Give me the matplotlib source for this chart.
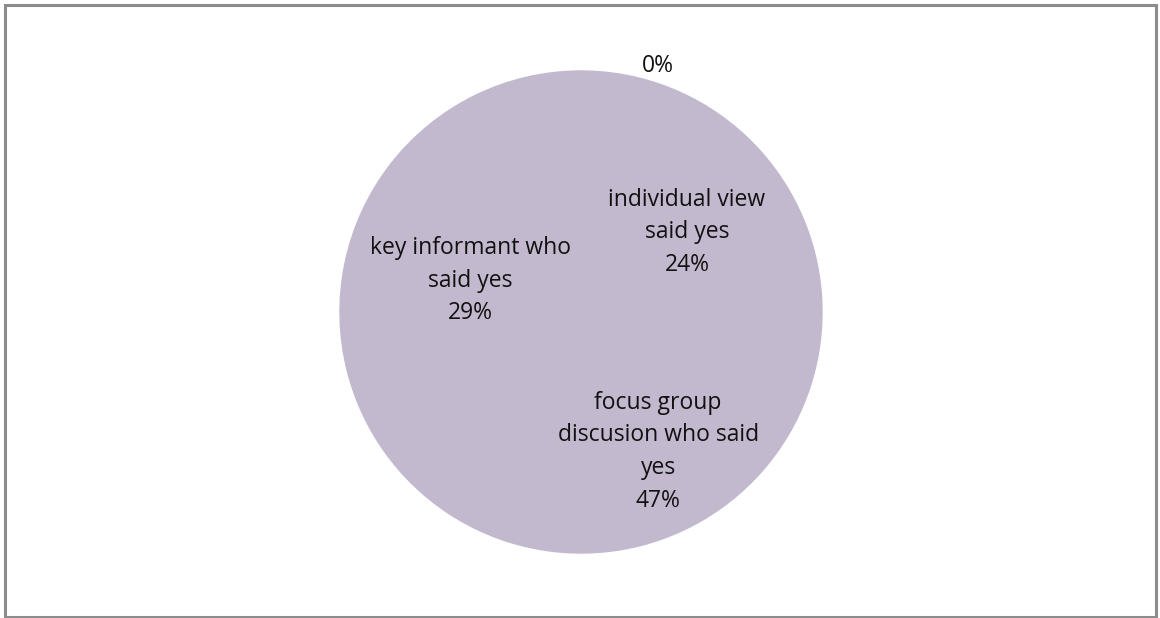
import matplotlib.pyplot as plt
from matplotlib.patches import Rectangle

plt.rcParams['font.family'] = ['Open Sans', 'DejaVu Sans']

# data
categories = ['', 'individual view\nsaid yes', 'focus group\ndiscusion who said\nyes', 'key informant who\nsaid yes']
values = [0, 24, 47, 29]
pct_labels = ['0%', '24%', '47%', '29%']

W, H = 1160, 618
fig = plt.figure(figsize=(W / 100, H / 100), dpi=100)

# pie centred at (581, 312) px, radius 241 px
cx, cy, r, half = 581, 312, 241, 300
ax = fig.add_axes([(cx - half) / W, (H - cy - half) / H, 2 * half / W, 2 * half / H])
lim = half / r

wedges, _ = ax.pie(values, startangle=90, counterclock=False,
                   colors=['#c3b9cf'] * len(values),
                   wedgeprops=dict(edgecolor='#c3b9cf', linewidth=1))
ax.set_xlim(-lim, lim)
ax.set_ylim(-lim, lim)
ax.set_aspect('equal')
ax.axis('off')

# label spots (Excel "best fit" style)
label_pos = [(0.32, 1.02), (0.44, 0.33), (0.32, -0.58), (-0.46, 0.13)]
for cat, pct, (x, y) in zip(categories, pct_labels, label_pos):
    txt = pct if cat == '' else cat + '\n' + pct
    ax.text(x, y, txt, ha='center', va='center', fontsize=16.5,
            linespacing=1.48, color='#111111')

# chart border
fig.patches.append(Rectangle((5 / W, 1 / H), 1151 / W, 612 / H, transform=fig.transFigure,
                             fill=False, edgecolor='#8c8c8c', linewidth=2.2))

fig.savefig('out.png', dpi=100, facecolor='white')
